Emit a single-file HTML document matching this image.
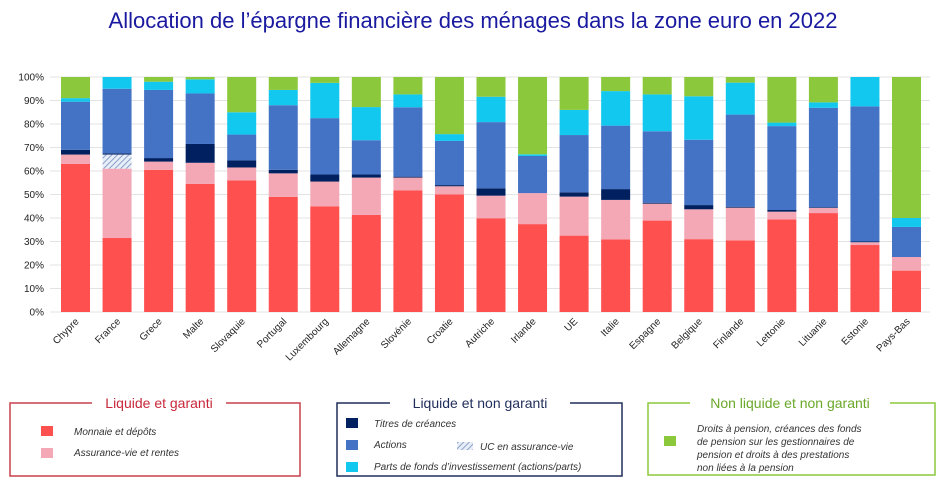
<!DOCTYPE html>
<html><head><meta charset="utf-8"><style>
body{margin:0;background:#fff;width:947px;height:490px;overflow:hidden;font-family:"Liberation Sans",sans-serif}
</style></head><body>
<svg id="c" width="947" height="490" xmlns="http://www.w3.org/2000/svg">
<defs><pattern id="hatch" width="4" height="4" patternUnits="userSpaceOnUse" patternTransform="rotate(45)"><rect width="4" height="4" fill="#e8eef8"/><line x1="0" y1="0" x2="0" y2="4" stroke="#8aa0c8" stroke-width="2"/></pattern></defs>
<text x="473" y="28" text-anchor="middle" font-size="22" fill="#1a1aa0">Allocation de l’épargne financière des ménages dans la zone euro en 2022</text>
<g id="grid"></g><g id="bars"></g><g id="xl"></g>
<g>
<rect x="10" y="403" width="290" height="73" fill="none" stroke="#c8414b" stroke-width="1.5"/>
<rect x="92" y="394" width="134" height="18" fill="#fff"/>
<text x="159" y="408" text-anchor="middle" font-size="14" fill="#c8283a">Liquide et garanti</text>
<rect x="41" y="426" width="12" height="10" fill="#ff5050"/><text x="74" y="435" font-size="10" font-style="italic" fill="#333">Monnaie et dépôts</text>
<rect x="41" y="448" width="12" height="10" fill="#f4a7b5"/><text x="74" y="456" font-size="10" font-style="italic" fill="#333">Assurance-vie et rentes</text>
</g>
<g>
<rect x="337" y="403" width="285" height="73" fill="none" stroke="#1f2d5a" stroke-width="1.5"/>
<rect x="390" y="394" width="180" height="18" fill="#fff"/>
<text x="480" y="408" text-anchor="middle" font-size="14" fill="#1f2d5a">Liquide et non garanti</text>
<rect x="346" y="418" width="12" height="10" fill="#002060"/><text x="374" y="427" font-size="10" font-style="italic" fill="#333">Titres de créances</text>
<rect x="346" y="440" width="12" height="10" fill="#4472c4"/><text x="374" y="448" font-size="10" font-style="italic" fill="#333">Actions</text>
<rect x="457" y="442" width="16" height="8" fill="url(#hatch)"/><text x="480" y="450" font-size="10" font-style="italic" fill="#333">UC en assurance-vie</text>
<rect x="346" y="462" width="12" height="10" fill="#12c8ef"/><text x="374" y="470" font-size="10" font-style="italic" fill="#333">Parts de fonds d’investissement (actions/parts)</text>
</g>
<g>
<rect x="648" y="403" width="287" height="72" fill="none" stroke="#8bc83c" stroke-width="1.5"/>
<rect x="690" y="394" width="200" height="18" fill="#fff"/>
<text x="790" y="408" text-anchor="middle" font-size="14" fill="#6aa82a">Non liquide et non garanti</text>
<rect x="664" y="436" width="12" height="10" fill="#8bc83c"/>
<text font-size="10" font-style="italic" fill="#333"><tspan x="697" y="432">Droits à pension, créances des fonds</tspan><tspan x="697" y="445">de pension sur les gestionnaires  de</tspan><tspan x="697" y="458">pension et droits à des prestations</tspan><tspan x="697" y="471">non liées à la pension</tspan></text>
</g>
</svg>
<script>
const categories=["Chypre","France","Grece","Malte","Slovaquie","Portugal","Luxembourg","Allemagne","Slovénie","Croatie","Autriche","Irlande","UE","Italie","Espagne","Belgique","Finlande","Lettonie","Lituanie","Estonie","Pays-Bas"];
const monnaie=[63,31.5,60.5,54.5,56,49,45,41.3,51.8,50,39.9,37.4,32.5,30.9,38.9,31,30.5,39.4,42.1,28.5,17.6];
const assurance=[4,29.5,3.5,9,5.5,10,10.5,15.9,5.4,3.5,9.6,13.2,16.6,16.8,7.2,12.7,13.9,3.3,2.2,1.2,5.8];
const uc=[0,6,0,0,0,0,0,0,0,0,0,0,0,0,0,0,0,0,0,0,0];
const titres=[2,0.5,1.5,8,3,1.5,3,1.3,0.4,0.5,3.1,0,1.8,4.6,0.4,1.8,0.4,0.7,0.3,0.3,0];
const actions=[20.5,27.5,29,21.5,11,27.5,24,14.6,29.5,18.8,28.2,15.8,24.4,27,30.4,27.8,39.2,35.7,42.3,57.5,12.8];
const fonds=[1.5,5,3.5,6,9.5,6.5,15,14.1,5.5,2.9,10.8,0.7,10.7,14.7,15.7,18.5,13.6,1.5,2.3,12.5,3.8];
const pension=[9,0,2,1,15,5.5,2.5,12.8,7.4,24.3,8.4,32.9,14,6,7.4,8.2,2.4,19.4,10.8,0,60];
const yTicks=[0,10,20,30,40,50,60,70,80,90,100];
const series=[["monnaie",monnaie,"#ff5050"],["assurance",assurance,"#f4a7b5"],["uc",uc,"url(#hatch)"],["titres",titres,"#002060"],["actions",actions,"#4472c4"],["fonds",fonds,"#12c8ef"],["pension",pension,"#8bc83c"]];
const NS="http://www.w3.org/2000/svg";
const y0=312,y1=77,x0=50,step=41.55,bw=29,first=75.5;
function yS(v){return y0-(y0-y1)*v/100;}
function xS(i){return first+i*step;}
function mk(t,a,p){const e=document.createElementNS(NS,t);for(const k in a)e.setAttribute(k,a[k]);p.appendChild(e);return e;}
const g=document.getElementById("grid");
yTicks.forEach(t=>{
 const l=mk("line",{x1:x0,x2:930,y1:yS(t),y2:yS(t),stroke:"#e3e3e3","stroke-width":1},g);
 
 
 const tx=mk("text",{x:44,y:yS(t)+3.5,"text-anchor":"end","font-size":10,fill:"#222"},g);
 tx.textContent=t+"%";
 
 
});
const b=document.getElementById("bars");
categories.forEach((c,i)=>{
 let cum=0;
 series.forEach(s=>{
  const v=s[1][i];
  if(v>0){
   const r=mk("rect",{x:xS(i)-bw/2,y:yS(Math.min(100,cum+v)),width:bw,height:yS(cum)-yS(Math.min(100,cum+v)),fill:s[2]},b);
   
   
  }
  cum+=v;
 });
 const t=mk("text",{x:0,y:0,"text-anchor":"end","font-size":10,fill:"#222",transform:`translate(${xS(i)+4},${y0+10}) rotate(-45)`},document.getElementById("xl"));
 t.textContent=c;
 
 
});
</script>
</body></html>
